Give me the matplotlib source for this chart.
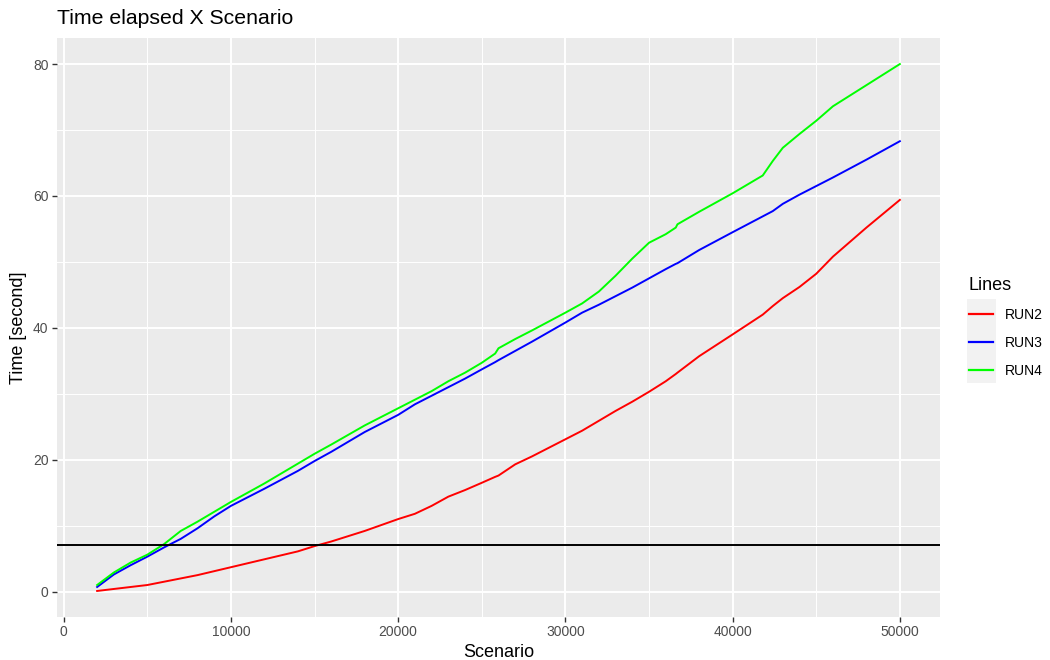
import matplotlib
matplotlib.use("Agg")
import matplotlib.pyplot as plt
from matplotlib.patches import Rectangle
from matplotlib.ticker import MultipleLocator

plt.rcParams['font.family'] = ['Liberation Sans', 'DejaVu Sans']

scenario = [2000, 3000, 4000, 5000, 6000, 7000, 8000, 9000, 10000, 12000, 14000,
            15000, 16000, 18000, 20000, 21000, 22000, 23000, 24000, 25000, 25800,
            26000, 27000, 28000, 30000, 31000, 32000, 33000, 34000, 35000, 36000,
            36600, 36700, 38000, 40000, 41800, 42400, 43000, 44000, 45000, 46000,
            48000, 50000]
run2 = [0.1, 0.4, 0.7, 1.0, 1.5, 2.0, 2.5, 3.1, 3.7, 4.9, 6.1,
        6.9, 7.6, 9.2, 11.0, 11.8, 13.0, 14.4, 15.4, 16.5, 17.4,
        17.6, 19.3, 20.5, 23.1, 24.4, 25.9, 27.4, 28.8, 30.3, 31.9,
        33.0, 33.2, 35.7, 39.0, 42.0, 43.3, 44.5, 46.2, 48.2, 50.8,
        55.2, 59.4]
run3 = [0.7, 2.6, 4.0, 5.3, 6.7, 8.0, 9.6, 11.4, 13.0, 15.6, 18.3,
        19.8, 21.2, 24.2, 26.8, 28.4, 29.7, 31.0, 32.3, 33.7, 34.8,
        35.1, 36.5, 37.9, 40.8, 42.3, 43.5, 44.8, 46.1, 47.5, 48.9,
        49.7, 49.8, 51.8, 54.5, 56.9, 57.7, 58.8, 60.2, 61.5, 62.8,
        65.5, 68.3]
run4 = [1.0, 2.9, 4.4, 5.6, 7.2, 9.2, 10.6, 12.1, 13.6, 16.4, 19.4,
        20.9, 22.3, 25.2, 27.8, 29.1, 30.4, 31.9, 33.2, 34.7, 36.1,
        36.9, 38.3, 39.6, 42.3, 43.7, 45.5, 47.9, 50.5, 52.9, 54.2,
        55.2, 55.7, 57.6, 60.4, 63.1, 65.3, 67.3, 69.4, 71.4, 73.6,
        76.8, 80.0]
series_names = ['RUN2', 'RUN3', 'RUN4']
series_colors = ['#FF0000', '#0000FF', '#00FF00']
hline_value = 7

fig = plt.figure(figsize=(10.5, 6.6), dpi=100)
ax = fig.add_axes([57/1050, 1-617/660, (940-57)/1050, (617-38)/660])
ax.set_facecolor('#EBEBEB')
for s in ax.spines.values():
    s.set_visible(False)

for name, vals, col in zip(series_names, [run2, run3, run4], series_colors):
    ax.plot(scenario, vals, color=col, lw=1.4, label=name, zorder=3)
ax.axhline(hline_value, color='black', lw=1.4, zorder=4)

ax.set_xlim(-400, 52400)
ax.set_ylim(-3.85, 83.95)
ax.xaxis.set_major_locator(MultipleLocator(10000))
ax.xaxis.set_minor_locator(MultipleLocator(5000))
ax.yaxis.set_major_locator(MultipleLocator(20))
ax.yaxis.set_minor_locator(MultipleLocator(10))
ax.grid(which='major', color='white', lw=1.4, zorder=1)
ax.grid(which='minor', color='white', lw=0.7, zorder=1)
ax.set_axisbelow(True)
ax.tick_params(which='major', length=3.6, width=1.0, color='#333333',
               labelcolor='#4D4D4D', labelsize=10, pad=2.5)
ax.tick_params(which='minor', length=0)

ax.set_xlabel('Scenario', fontsize=13, color='black', labelpad=3)
ax.set_ylabel('Time [second]', fontsize=13, color='black', labelpad=4)
ax.set_title('Time elapsed X Scenario', loc='left', fontsize=15.3, color='black', pad=10)

leg = ax.legend(title='Lines', loc='upper left', bbox_to_anchor=(968.5/1050, 1-277/660),
                bbox_transform=fig.transFigure, frameon=False, fontsize=10,
                title_fontsize=13, handlelength=1.73, handletextpad=0.86,
                labelspacing=1.0, borderaxespad=0, borderpad=0)
leg._legend_box.align = 'left'
for h in leg.get_lines():
    h.set_linewidth(1.6)
fig.patches.append(Rectangle((967/1050, 1-383/660), 29/1050, 84/660,
                             transform=fig.transFigure, facecolor='#F2F2F2',
                             edgecolor='none', zorder=-1))

fig.savefig('out.png', dpi=100, facecolor='white')
